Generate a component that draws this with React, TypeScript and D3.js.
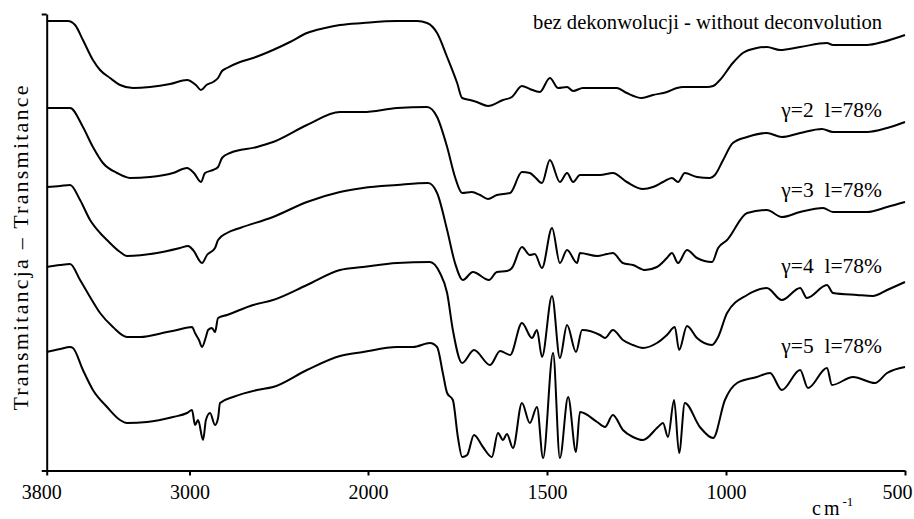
import React, { useEffect, useRef } from "react";
import * as d3 from "d3";

// FTIR spectra: [wavenumber cm-1, transmittance (arbitrary units, stacked)]
const noDeconvolution: [number, number][] = [
  [3800, 45.0], [3681, 45.0], [3641, 44.6], [3597, 43.1], [3541, 41.1], [3501, 40.1],
  [3445, 39.3], [3389, 38.6], [3317, 38.3], [3221, 38.4], [3109, 38.7], [3014, 39.1],
  [2964, 38.6], [2936, 38.1], [2905, 38.6], [2868, 38.9], [2840, 39.3], [2818, 40.0],
  [2790, 40.3], [2717, 40.9], [2644, 41.3], [2532, 42.1], [2437, 42.9], [2342, 43.8],
  [2241, 44.3], [2157, 44.6], [2028, 44.8], [1919, 45.0], [1863, 45.0], [1835, 44.8],
  [1807, 43.8], [1779, 41.4], [1751, 38.8], [1737, 37.3], [1715, 37.1], [1696, 36.9],
  [1665, 36.5], [1623, 37.1], [1598, 37.4], [1570, 38.5], [1548, 38.2], [1520, 37.9],
  [1492, 39.3], [1469, 38.3], [1444, 38.4], [1427, 38.0], [1400, 38.3], [1305, 38.3],
  [1277, 37.8], [1235, 37.3], [1204, 37.6], [1165, 37.9], [1137, 38.3], [1120, 38.4],
  [1053, 38.4], [1036, 38.5], [1017, 39.1], [981, 40.8], [953, 41.8], [914, 42.3],
  [886, 42.4], [849, 42.1], [793, 42.4], [718, 42.8], [701, 42.6], [606, 42.6],
  [562, 42.9], [500, 43.6],
];

const gamma2: [number, number][] = [
  [3800, 36.3], [3669, 36.3], [3597, 34.4], [3541, 32.4], [3485, 30.8], [3406, 29.8],
  [3333, 29.3], [3221, 29.4], [3092, 29.8], [3014, 30.3], [2975, 29.8], [2936, 28.9],
  [2913, 29.8], [2868, 30.1], [2840, 30.4], [2818, 31.3], [2773, 31.8], [2622, 32.4],
  [2532, 32.9], [2342, 34.6], [2157, 35.9], [2028, 35.9], [1919, 36.3], [1835, 36.4],
  [1807, 35.4], [1779, 32.4], [1757, 29.4], [1737, 27.8], [1710, 27.9], [1687, 27.6],
  [1665, 27.2], [1640, 27.6], [1603, 27.8], [1570, 29.9], [1548, 29.8], [1534, 29.4],
  [1514, 28.8], [1492, 31.1], [1464, 28.9], [1444, 29.8], [1427, 28.9], [1408, 29.6],
  [1352, 29.6], [1316, 29.8], [1277, 28.9], [1232, 28.2], [1204, 28.4], [1176, 28.9],
  [1151, 29.3], [1134, 28.9], [1115, 29.8], [1081, 29.4], [1045, 29.3], [1031, 29.6],
  [1008, 31.1], [981, 32.8], [941, 33.4], [886, 33.8], [844, 33.4], [793, 33.8],
  [732, 34.2], [701, 33.9], [606, 33.9], [550, 34.3], [500, 34.9],
];

const gamma3: [number, number][] = [
  [3800, 28.4], [3725, 28.5], [3669, 28.6], [3613, 27.1], [3557, 25.1], [3501, 23.8],
  [3462, 23.1], [3389, 21.9], [3350, 21.5], [3182, 21.8], [3053, 22.3], [3008, 22.5],
  [2980, 22.1], [2930, 20.8], [2902, 21.6], [2857, 22.3], [2840, 23.1], [2790, 23.8],
  [2717, 24.3], [2532, 25.4], [2342, 26.9], [2157, 27.9], [2028, 28.3], [1919, 28.6],
  [1832, 28.8], [1807, 27.8], [1779, 24.1], [1757, 20.8], [1735, 19.1], [1707, 19.9],
  [1662, 19.1], [1640, 19.9], [1612, 20.0], [1598, 20.3], [1570, 22.4], [1548, 21.6],
  [1534, 21.7], [1514, 20.3], [1486, 24.3], [1464, 20.8], [1444, 22.1], [1416, 20.8],
  [1408, 21.8], [1360, 21.5], [1332, 21.7], [1316, 21.8], [1288, 20.8], [1260, 20.6],
  [1226, 20.1], [1193, 20.4], [1165, 21.3], [1151, 21.8], [1134, 20.8], [1109, 22.1],
  [1081, 21.3], [1039, 20.9], [1022, 22.3], [997, 23.1], [941, 25.8], [886, 26.1],
  [844, 25.4], [793, 25.9], [729, 26.3], [701, 25.9], [606, 25.9], [550, 26.4],
  [500, 26.9],
];

const gamma4: [number, number][] = [
  [3800, 20.4], [3725, 20.6], [3669, 20.7], [3613, 19.1], [3557, 17.4], [3501, 15.8],
  [3429, 14.4], [3350, 13.4], [3277, 13.4], [3126, 13.9], [3070, 14.1], [2986, 14.4],
  [2969, 13.8], [2947, 13.1], [2930, 12.4], [2908, 13.4], [2896, 14.1], [2874, 14.3],
  [2857, 13.9], [2840, 15.3], [2790, 15.6], [2644, 16.6], [2532, 17.1], [2342, 18.6],
  [2157, 20.1], [2028, 20.4], [1919, 20.8], [1827, 20.9], [1799, 19.8], [1779, 17.8],
  [1763, 14.1], [1737, 10.8], [1704, 12.1], [1659, 10.6], [1631, 12.0], [1603, 11.6],
  [1570, 14.8], [1542, 13.3], [1528, 14.1], [1514, 11.4], [1486, 17.5], [1464, 11.3],
  [1444, 14.6], [1419, 11.9], [1402, 14.1], [1352, 13.6], [1338, 13.3], [1316, 14.1],
  [1288, 13.1], [1260, 12.6], [1232, 12.3], [1193, 12.8], [1165, 13.6], [1143, 14.4],
  [1131, 12.1], [1109, 14.5], [1081, 13.3], [1039, 12.6], [1022, 13.4], [997, 15.8],
  [941, 17.6], [886, 18.3], [844, 17.1], [793, 18.3], [774, 17.3], [718, 18.6],
  [701, 17.8], [634, 17.6], [590, 17.5], [550, 18.1], [500, 18.9],
];

const gamma5: [number, number][] = [
  [3800, 11.9], [3725, 12.2], [3669, 12.4], [3653, 12.3], [3597, 10.1], [3541, 8.1],
  [3462, 6.4], [3389, 5.1], [3350, 4.8], [3238, 4.9], [3092, 5.4], [3014, 5.8],
  [2986, 6.1], [2969, 4.6], [2952, 5.1], [2924, 3.1], [2908, 5.1], [2885, 5.8],
  [2857, 4.6], [2840, 5.3], [2829, 6.8], [2756, 7.4], [2622, 8.1], [2532, 8.4],
  [2342, 10.1], [2157, 11.5], [2028, 11.9], [1919, 12.4], [1874, 12.4], [1827, 12.8],
  [1807, 12.4], [1791, 9.8], [1779, 7.8], [1763, 7.1], [1749, 3.4], [1737, 1.4],
  [1723, 1.6], [1704, 3.6], [1679, 2.4], [1654, 1.4], [1637, 3.8], [1623, 3.1],
  [1612, 3.7], [1595, 2.3], [1570, 6.8], [1548, 4.8], [1528, 6.4], [1511, 1.3],
  [1483, 11.8], [1464, 1.3], [1441, 7.4], [1419, 1.9], [1408, 5.9], [1360, 4.9],
  [1338, 4.4], [1316, 5.6], [1288, 4.1], [1260, 3.4], [1232, 3.1], [1190, 4.4],
  [1176, 4.8], [1162, 3.4], [1145, 7.1], [1131, 1.8], [1115, 6.8], [1073, 4.4],
  [1036, 3.3], [1003, 7.1], [969, 8.8], [914, 9.4], [877, 9.8], [844, 8.1],
  [793, 10.1], [771, 8.3], [718, 10.3], [704, 8.6], [645, 9.4], [584, 8.8],
  [550, 9.8], [500, 10.4],
];

const seriesList = [noDeconvolution, gamma2, gamma3, gamma4, gamma5];

const seriesLabels = [
  "bez dekonwolucji - without deconvolution",
  "γ=2  l=78%",
  "γ=3  l=78%",
  "γ=4  l=78%",
  "γ=5  l=78%",
];
// transmittance level each label sits at
const labelLevels = [44.2, 35.4, 27.4, 19.8, 11.8];

const xTicks = [3800, 3000, 2000, 1500, 1000, 500];

const W = 914;
const H = 519;
const FONT = "Liberation Serif, DejaVu Serif, serif";

export default function App() {
  const xAxisRef = useRef<SVGGElement>(null);
  const yAxisRef = useRef<SVGGElement>(null);

  // wavenumber axis is expanded 2x below 2000 cm-1
  const x = d3.scaleLinear().domain([3800, 2000, 500]).range([46.7, 368, 905]);
  const y = d3.scaleLinear().domain([0, 45.7]).range([471, 14]);

  const line = d3
    .line<[number, number]>()
    .x((d) => x(d[0]))
    .y((d) => y(d[1]))
    .curve(d3.curveMonotoneX);

  useEffect(() => {
    const gx = d3.select(xAxisRef.current!);
    gx.selectAll("*").remove();
    gx.call(
      d3
        .axisBottom(x)
        .tickValues(xTicks)
        .tickSize(5)
        .tickSizeOuter(0)
        .tickPadding(9)
        .tickFormat(d3.format("d"))
    );
    gx.attr("font-family", FONT).attr("font-size", 20);
    gx.select(".domain").attr("stroke", "#000").attr("stroke-width", 2).attr("d", `M41.7,0.5H905`);
    gx.selectAll(".tick line").attr("stroke", "#000").attr("stroke-width", 2);
    gx.selectAll<SVGTextElement, number>(".tick text")
      .attr("fill", "#000")
      .style("font-family", FONT)
      .style("font-size", "20px")
      // edge labels are pulled inside the frame
      .attr("dx", (d) => (d === 3800 ? -5.5 : d === 500 ? -8 : 0));

    const gy = d3.select(yAxisRef.current!);
    gy.selectAll("*").remove();
    gy.call(d3.axisLeft(y).tickValues([45.7]).tickSize(5).tickSizeOuter(0).tickFormat(() => ""));
    gy.select(".domain").attr("stroke", "#000").attr("stroke-width", 2);
    gy.selectAll(".tick line").attr("stroke", "#000").attr("stroke-width", 2);
  }, []);

  return (
    <svg
      width={W}
      height={H}
      style={{ position: "absolute", left: 0, top: 0, background: "#fff" }}
      fontFamily={FONT}
    >
      <rect width={W} height={H} fill="#fff" />
      {seriesList.map((s, i) => (
        <path
          key={i}
          d={line(s) ?? ""}
          fill="none"
          stroke="#000"
          strokeWidth={2}
          strokeLinejoin="round"
        />
      ))}
      <g ref={yAxisRef} transform="translate(46.7,0)" />
      <g ref={xAxisRef} transform="translate(0,470.5)" />
      {seriesLabels.map((t, i) => (
        <text
          key={i}
          x={882}
          y={y(labelLevels[i])}
          textAnchor="end"
          fontSize={i === 0 ? 20.6 : 21.5}
          style={{ whiteSpace: "pre" }}
          fill="#000"
        >
          {t}
        </text>
      ))}
      <text
        transform={`translate(28,${247}) rotate(-90)`}
        textAnchor="middle"
        fontSize={22}
        letterSpacing={2.2}
        fill="#000"
      >
        Transmitancja – Transmitance
      </text>
      <text x={812} y={515} fontSize={20} letterSpacing={3} fill="#000">
        cm
        <tspan dy={-9} fontSize={13} letterSpacing={0}>
          -1
        </tspan>
      </text>
    </svg>
  );
}
